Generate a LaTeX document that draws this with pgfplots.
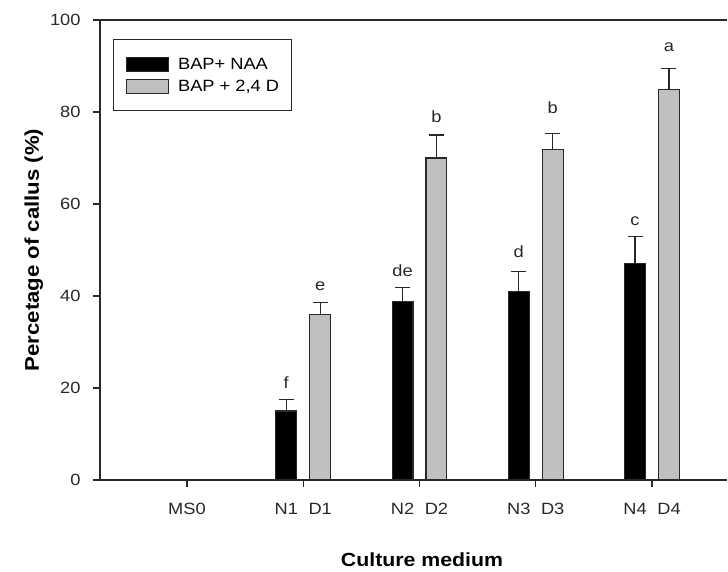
\documentclass[border=0pt]{standalone}
\usepackage{fontspec}
\setmainfont{Liberation Sans}[FakeStretch=1.12]
\usepackage{pgfplots}
\pgfplotsset{compat=1.18}
\definecolor{bargray}{RGB}{192,192,192}
\definecolor{axc}{RGB}{40,40,40}
\pgfplotsset{boxlegend/.style={legend image code/.code={\draw[##1, line width=1pt] (2.3pt,-7pt) rectangle (44.3pt,7pt); \path (0pt,0pt) (51pt,0pt);}}}
\pgfplotstableread{
x y e
0.854 15 2.5
1.854 38.8 3.0
2.854 41 4.4
3.854 47 6.0
}\naa
\pgfplotstableread{
x y e
1.146 36 2.5
2.146 70 5.0
3.146 71.8 3.6
4.146 84.8 4.6
}\dd
\pgfplotstableread{
x y l
0.854 19.8 f
1.146 41.2 e
1.854 44.3 de
2.146 77.7 b
2.854 48.3 d
3.146 79.7 b
3.854 55.3 c
4.146 93.1 a
}\letters
\begin{document}
\begin{tikzpicture}
\useasboundingbox (-100pt,-92pt) rectangle (628pt,480pt);
\begin{axis}[
  at={(0pt,0pt)}, anchor=south west,
  scale only axis, width=627pt, height=460pt,
  xmin=-0.748, xmax=4.645, ymin=0, ymax=100,
  axis x line*=box, axis y line*=left,
  axis line style={line width=1.3pt, axc, -},
  xtick={0,1,2,3,4}, xticklabels={},
  xtick pos=left, ytick pos=left,
  extra x ticks={0,0.854,1.146,1.854,2.146,2.854,3.146,3.854,4.146},
  extra x tick labels={MS0,N1,D1,N2,D2,N3,D3,N4,D4},
  extra x tick style={major tick length=0pt},
  ytick={0,20,40,60,80,100},
  tick align=outside, major tick length=7pt,
  tick style={line width=1.1pt, axc},
  /pgf/number format/assume math mode=true,
  ticklabel style={font=\fontsize{16.3}{18}\selectfont, text=axc},
  xticklabel style={yshift=-20pt},
  yticklabel style={xshift=-9pt},
  every axis x label/.style={at={(axis description cs:0.5135,-0.189)}, anchor=base},
  every axis y label/.style={at={(axis description cs:-0.0973,0.5)}, rotate=90, anchor=base},
  xlabel style={font=\bfseries\fontsize{19}{22}\selectfont},
  ylabel style={font=\bfseries\fontsize{19.8}{22}\selectfont},
  xlabel={Culture medium},
  ylabel={Percetage of callus (\%)},
  legend style={at={(rel axis cs:0.0207,0.9587)}, anchor=north west, draw=axc, line width=1pt,
    font=\fontsize{16.3}{18}\selectfont, inner xsep=10.5pt, inner ysep=16.3pt, row sep=5.2pt,
    cells={anchor=west}},
]
\addplot[ybar, bar width=0.18, bar shift=0pt, fill=black, draw=axc, line width=1.1pt, boxlegend,
  error bars/.cd, y dir=plus, y explicit,
  error bar style={line width=1.2pt, axc},
  error mark options={rotate=90, mark size=7.5pt, line width=1.2pt, axc}]
  table[x=x, y=y, y error=e] {\naa};
\addlegendentry{BAP+ NAA}
\addplot[ybar, bar width=0.18, bar shift=0pt, fill=bargray, draw=axc, line width=1.1pt, boxlegend,
  error bars/.cd, y dir=plus, y explicit,
  error bar style={line width=1.2pt, axc},
  error mark options={rotate=90, mark size=7.5pt, line width=1.2pt, axc}]
  table[x=x, y=y, y error=e] {\dd};
\addlegendentry{BAP + 2,4 D}
\addplot[draw=none, mark=none, forget plot, nodes near coords, point meta=explicit symbolic,
  nodes near coords style={anchor=base, font=\fontsize{16.3}{18}\selectfont, inner sep=0pt, text=axc}]
  table[x=x, y=y, meta=l] {\letters};
\end{axis}
\end{tikzpicture}
\end{document}
